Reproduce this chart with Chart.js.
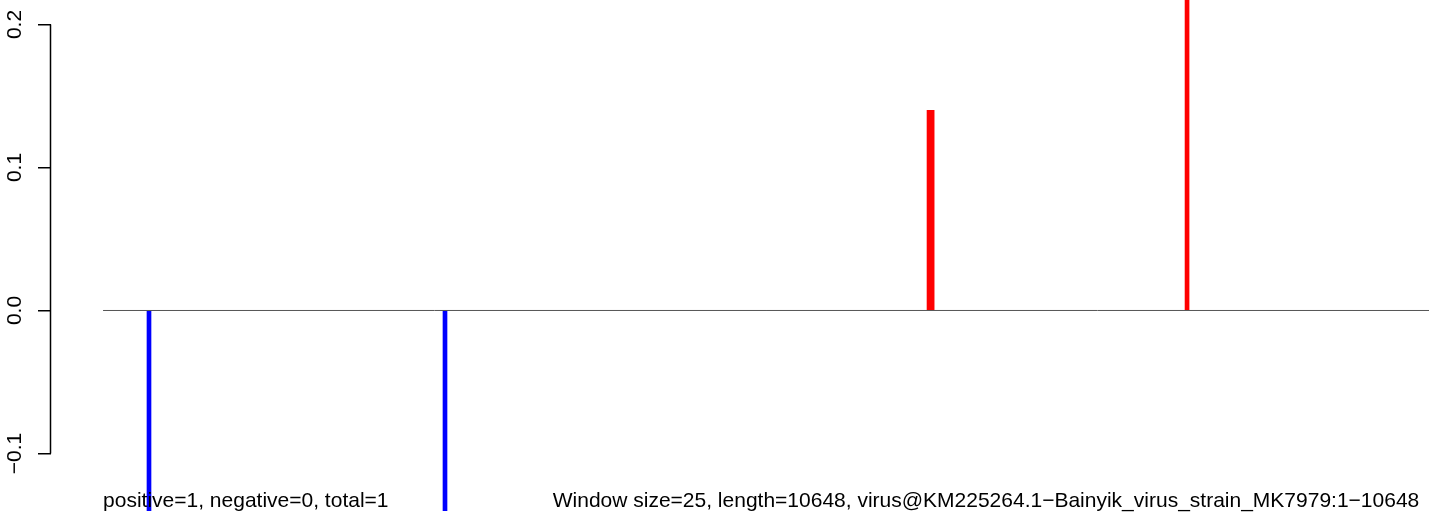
<!DOCTYPE html>
<html>
<head>
<meta charset="utf-8">
<script src="https://cdn.jsdelivr.net/npm/chart.js@4/dist/chart.umd.min.js"></script>
<style>
  html, body { margin: 0; padding: 0; background: #fff; }
  #wrap { width: 1429px; height: 516px; position: relative; }
</style>
</head>
<body>
<div id="wrap"><canvas id="skewChart"></canvas></div>
<script>
// ====== DATA ======
// window positions (bp) and skew values
const negPositions = [369, 2746];
const negValues = [-0.14, -0.14];
const posPositions = [6633, 6658, 8705];
const posValues = [0.14, 0.14, 0.28];
const yTickValues = [-0.1, 0, 0.1, 0.2];
const genomeLength = 10648;
const leftNote = "positive=1, negative=0, total=1";
const rightNote = "Window size=25, length=10648, virus@KM225264.1\u2212Bainyik_virus_strain_MK7979:1\u221210648";
// ==================

const FONT = '"Liberation Sans", Arial, Helvetica, sans-serif';

const toPoints = (xs, ys) => xs.map((x, i) => ({ x: x, y: ys[i] }));

// R-style axis line: only between first and last tick
const axisLinePlugin = {
    id: 'axisLine',
    afterDraw(chart) {
        const y = chart.scales.y;
        const ctx = chart.ctx;
        ctx.save();
        ctx.strokeStyle = '#000';
        ctx.lineWidth = 1.5;
        ctx.beginPath();
        ctx.moveTo(y.right - 0.5, y.getPixelForValue(yTickValues[yTickValues.length - 1]));
        ctx.lineTo(y.right - 0.5, y.getPixelForValue(yTickValues[0]));
        ctx.stroke();
        ctx.restore();
    }
};

// notes under the plot
const notesPlugin = {
    id: 'notes',
    afterDraw(chart) {
        const x = chart.scales.x;
        const ctx = chart.ctx;
        const base = chart.chartArea.bottom - 9;
        ctx.save();
        ctx.fillStyle = '#000';
        ctx.font = '21px ' + FONT;
        ctx.textAlign = 'left';
        ctx.textBaseline = 'alphabetic';
        ctx.fillText(leftNote, x.getPixelForValue(0), base);
        ctx.fillText(rightNote, x.getPixelForValue(3611), base);
        ctx.restore();
    }
};

const ctx = document.getElementById('skewChart').getContext('2d');
const skewChart = new Chart(ctx, {
    type: 'bar',
    data: {
        datasets: [
            {
                type: 'line',
                data: [{ x: 0, y: 0 }, { x: genomeLength, y: 0 }],
                borderColor: '#555555',
                borderWidth: 1,
                pointRadius: 0,
                order: 3
            },
            {
                data: toPoints(negPositions, negValues),
                backgroundColor: '#0000FF',
                barThickness: 4,
                grouped: false,
                order: 1
            },
            {
                data: toPoints(posPositions, posValues),
                backgroundColor: '#FF0000',
                barThickness: 4,
                grouped: false,
                order: 1
            }
        ]
    },
    options: {
        responsive: true,
        maintainAspectRatio: false,
        animation: false,
        layout: { padding: 0 },
        plugins: {
            legend: { display: false },
            tooltip: { enabled: false }
        },
        scales: {
            x: {
                type: 'linear',
                display: false,
                offset: false,
                min: -418,
                max: genomeLength
            },
            y: {
                min: -0.14371,
                max: 0.21713,
                afterFit: (s) => {
                    s.width = 51;
                    s.paddingTop = 0;
                    s.paddingBottom = 0;
                },
                afterBuildTicks: (s) => { s.ticks = yTickValues.map(v => ({ value: v })); },
                border: { display: false },
                grid: {
                    drawOnChartArea: false,
                    drawTicks: true,
                    tickLength: 13,
                    color: '#000',
                    lineWidth: 1.5
                },
                ticks: {
                    minRotation: 90,
                    maxRotation: 90,
                    crossAlign: 'center',
                    padding: 2,
                    color: '#000',
                    font: { family: FONT, size: 21 },
                    callback: (v) => Number(v).toFixed(1).replace('-', '\u2212')
                }
            }
        }
    },
    plugins: [axisLinePlugin, notesPlugin]
});
</script>
</body>
</html>
